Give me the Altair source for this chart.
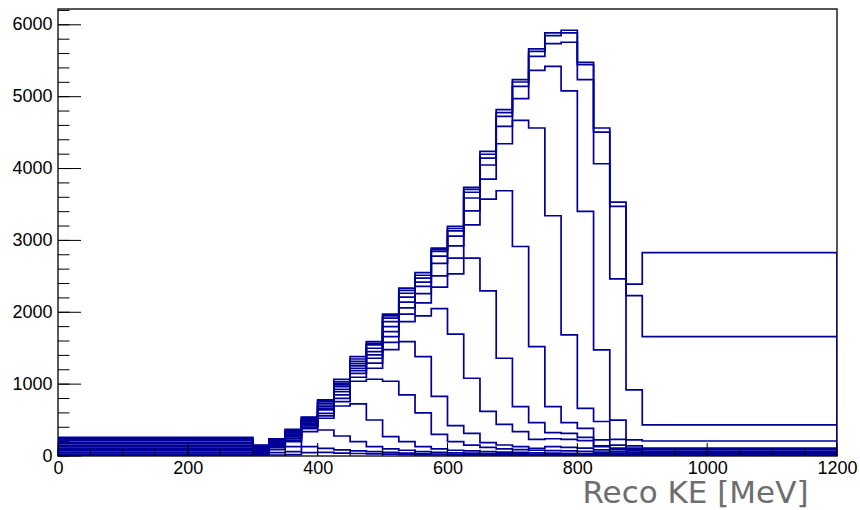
import altair as alt
import pandas as pd

# Bin edges of the reco-KE histogram (MeV): one wide underflow-like bin, 25 MeV bins, one wide last bin
bin_edges = [0, 300, 325, 350, 375, 400, 425, 450, 475, 500, 525, 550, 575, 600,
             625, 650, 675, 700, 725, 750, 775, 800, 825, 850, 875, 900, 1200]

# Outline heights of the stacked histograms (top of stack first), one value per bin
outline_01 = [260, 150, 240, 370, 540, 780, 1068, 1383, 1592, 1973, 2335, 2553, 2893, 3194, 3737, 4239, 4819, 5237, 5664, 5887, 5924, 5478, 4564, 3533, 2391, 2831]
outline_02 = [250, 145, 235, 365, 534, 770, 1036, 1350, 1569, 1950, 2305, 2515, 2870, 3166, 3710, 4199, 4779, 5204, 5631, 5850, 5887, 5446, 4508, 3473, 2232, 1662]
outline_03 = [235, 137, 225, 355, 524, 756, 1012, 1318, 1546, 1918, 2265, 2475, 2847, 3134, 3670, 4146, 4726, 5143, 5561, 5738, 5757, 5237, 4067, 2465, 919, 432]
outline_04 = [213, 127, 212, 340, 511, 734, 989, 1285, 1499, 1871, 2210, 2420, 2780, 3060, 3590, 4049, 4586, 4972, 5366, 5422, 5080, 3403, 1476, 500, 223, 209]
outline_05 = [190, 115, 199, 322, 495, 710, 966, 1253, 1453, 1801, 2140, 2360, 2680, 2925, 3410, 3853, 4345, 4670, 4564, 3343, 1685, 664, 480, 230, 140, 110]
outline_06 = [168, 103, 185, 305, 475, 687, 929, 1221, 1407, 1731, 2060, 2260, 2507, 2753, 3217, 3575, 3691, 2915, 1523, 687, 464, 385, 223, 150, 110, 84]
outline_07 = [146, 91, 171, 285, 458, 664, 896, 1188, 1360, 1662, 1975, 2130, 2349, 2535, 2753, 2298, 1360, 687, 464, 325, 316, 260, 140, 110, 90, 60]
outline_08 = [126, 79, 157, 265, 438, 641, 850, 1151, 1291, 1580, 1870, 1950, 2052, 1695, 1082, 620, 440, 339, 232, 240, 230, 213, 130, 90, 70, 45]
outline_09 = [106, 67, 143, 245, 418, 594, 803, 1096, 1221, 1480, 1592, 1383, 830, 422, 315, 186, 153, 130, 107, 130, 120, 110, 84, 60, 50, 30]
outline_10 = [88, 55, 129, 222, 398, 557, 757, 1040, 1068, 1040, 850, 599, 300, 200, 150, 120, 100, 90, 80, 75, 70, 65, 55, 40, 35, 20]
outline_11 = [70, 43, 115, 200, 380, 525, 696, 724, 501, 269, 200, 130, 100, 80, 70, 60, 55, 50, 45, 40, 38, 35, 30, 25, 20, 12]
outline_12 = [48, 31, 90, 130, 339, 362, 278, 200, 130, 100, 80, 60, 50, 45, 40, 35, 32, 30, 28, 25, 24, 22, 20, 15, 12, 8]
outline_13 = [25, 19, 47, 60, 130, 107, 84, 70, 60, 50, 40, 30, 28, 25, 22, 20, 18, 17, 16, 15, 14, 13, 12, 9, 7, 5]
outline_14 = [13, 7, 14, 20, 46, 50, 40, 35, 30, 25, 20, 15, 14, 12, 11, 10, 9, 9, 8, 8, 7, 7, 6, 5, 4, 3]

outlines = [outline_01, outline_02, outline_03, outline_04, outline_05, outline_06, outline_07,
            outline_08, outline_09, outline_10, outline_11, outline_12, outline_13, outline_14]

# Axis ticks and labels
x_labels = [0, 200, 400, 600, 800, 1000, 1200]
x_minor = [0, 50, 100, 150, 200, 250, 300, 350, 400, 450, 500, 550, 600, 650, 700, 750,
           800, 850, 900, 950, 1000, 1050, 1100, 1150, 1200]
y_labels = [0, 1000, 2000, 3000, 4000, 5000, 6000]
y_minor = [0, 200, 400, 600, 800, 1000, 1200, 1400, 1600, 1800, 2000, 2200, 2400, 2600, 2800,
           3000, 3200, 3400, 3600, 3800, 4000, 4200, 4400, 4600, 4800, 5000, 5200, 5400, 5600,
           5800, 6000, 6200]

X_MAX = 1200
Y_MAX = 6220
W, H = 779, 447

rows = []
for k, vals in enumerate(outlines):
    seq = [(bin_edges[0], 0)]
    seq += [(bin_edges[i], v) for i, v in enumerate(vals)]
    seq += [(bin_edges[-1], vals[-1]), (bin_edges[-1], 0)]
    for j, (xv, yv) in enumerate(seq):
        rows.append({"curve": k, "i": j, "x": xv, "y": yv})
df = pd.DataFrame(rows)

xscale = alt.Scale(domain=[0, X_MAX], nice=False, zero=False)
yscale = alt.Scale(domain=[0, Y_MAX], nice=False, zero=False)

lines = alt.Chart(df).mark_line(
    interpolate="step-after", color="#000099", strokeWidth=1.7, clip=True
).encode(
    x=alt.X("x:Q", scale=xscale, axis=alt.Axis(
        values=x_labels, format="d", ticks=False, domain=False, grid=False,
        labelFont="Liberation Sans", labelFontSize=18, labelColor="black",
        labelPadding=3, labelFlush=False, labelOverlap=False,
        title="Reco KE [MeV]", titleFont="DejaVu Sans", titleFontSize=31,
        titleFontWeight="normal", titleColor="#6e6e6e", titleAnchor="end",
        titleAlign="right", titleX=750, titleY=46, titleBaseline="alphabetic")),
    y=alt.Y("y:Q", scale=yscale, axis=alt.Axis(
        values=y_labels, format="d", ticks=False, domain=False, grid=False,
        labelFont="Liberation Sans", labelFontSize=18, labelColor="black",
        labelPadding=6, labelFlush=False, labelOverlap=False, title="")),
    detail="curve:N",
    order="i:Q",
)

xmaj = alt.Chart(pd.DataFrame({"x": x_labels})).mark_rule(color="black", strokeWidth=1).encode(
    x=alt.X("x:Q", scale=xscale), y=alt.value(H), y2=alt.value(H - 13))
xmin = alt.Chart(pd.DataFrame({"x": x_minor})).mark_rule(color="black", strokeWidth=1).encode(
    x=alt.X("x:Q", scale=xscale), y=alt.value(H), y2=alt.value(H - 6.5))
ymaj = alt.Chart(pd.DataFrame({"y": y_labels})).mark_rule(color="black", strokeWidth=1).encode(
    y=alt.Y("y:Q", scale=yscale), x=alt.value(0), x2=alt.value(23))
ymin = alt.Chart(pd.DataFrame({"y": y_minor})).mark_rule(color="black", strokeWidth=1).encode(
    y=alt.Y("y:Q", scale=yscale), x=alt.value(0), x2=alt.value(11.5))

chart = alt.layer(lines, xmin, xmaj, ymin, ymaj).properties(
    width=W, height=H,
    autosize=alt.AutoSizeParams(type="none"),
    padding={"left": 58, "top": 9, "right": 23, "bottom": 54},
    background="white",
).configure_view(stroke="#222222", strokeWidth=1.5)

chart.save("out.html", embed_options={"renderer": "svg", "actions": False})
